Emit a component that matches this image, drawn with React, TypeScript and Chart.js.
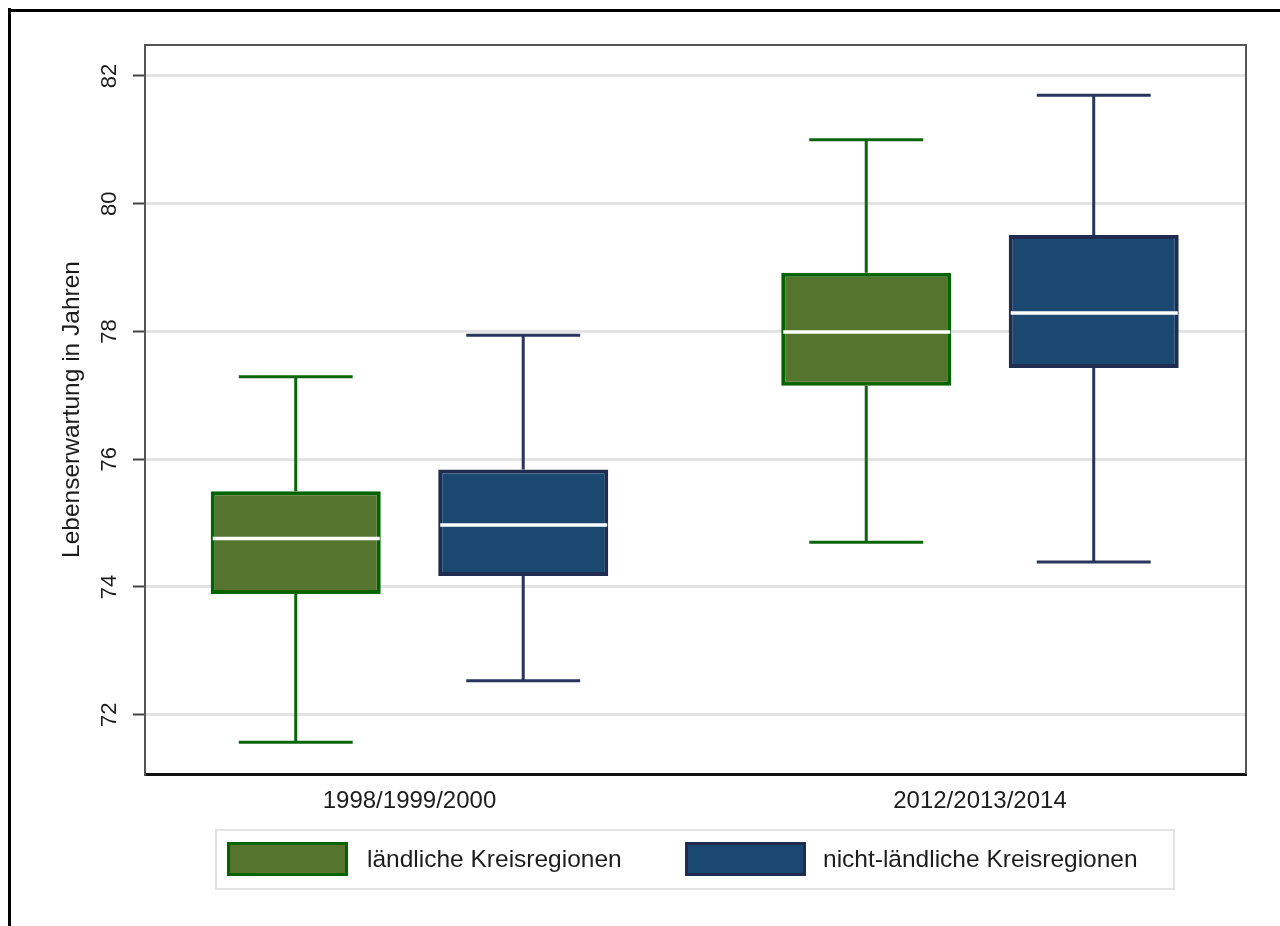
import { useEffect, useRef } from 'react';
import { Chart, registerables } from 'chart.js';

Chart.register(...registerables);

// ---- data ----
const categories = ['1998/1999/2000', '2012/2013/2014'];
const seriesNames = ['ländliche Kreisregionen', 'nicht-ländliche Kreisregionen'];

const landMin = [71.57, 74.7];
const landQ1 = [73.89, 77.15];
const landMed = [74.76, 77.99];
const landQ3 = [75.5, 78.92];
const landMax = [77.29, 81.0];

const nonMin = [72.53, 74.39];
const nonQ1 = [74.17, 77.43];
const nonMed = [74.97, 78.29];
const nonQ3 = [75.84, 79.51];
const nonMax = [77.94, 81.7];

const yTicks = [72, 74, 76, 78, 80, 82];

const FONT = "'Liberation Sans', Arial, sans-serif";
const TEXT = '#1c1c1c';

const styles = [
  { fill: '#55752f', border: '#006400', whisker: '#0b650b' },
  { fill: '#1b4870', border: '#1f2b4f', whisker: '#27355c' },
];

export default function App() {
  const ref = useRef<HTMLCanvasElement>(null);

  useEffect(() => {
    const canvas = ref.current;
    if (!canvas) return;

    const stats = [
      { min: landMin, q1: landQ1, med: landMed, q3: landQ3, max: landMax },
      { min: nonMin, q1: nonQ1, med: nonMed, q3: nonQ3, max: nonMax },
    ];

    const boxPlugin = {
      id: 'boxWhiskers',
      afterDatasetsDraw(chart: any) {
        const c = chart.ctx;
        const ys = chart.scales.y;
        chart.data.datasets.forEach((_ds: any, di: number) => {
          const meta = chart.getDatasetMeta(di);
          const s = stats[di];
          meta.data.forEach((bar: any, i: number) => {
            const { x, width } = bar.getProps(['x', 'width'], true);
            const pMin = ys.getPixelForValue(s.min[i]);
            const pQ1 = ys.getPixelForValue(s.q1[i]);
            const pMed = ys.getPixelForValue(s.med[i]);
            const pQ3 = ys.getPixelForValue(s.q3[i]);
            const pMax = ys.getPixelForValue(s.max[i]);
            const cap = width * 0.335;
            c.save();
            c.strokeStyle = styles[di].whisker;
            c.lineWidth = 3;
            c.beginPath();
            c.moveTo(x, pQ3);
            c.lineTo(x, pMax);
            c.moveTo(x - cap, pMax);
            c.lineTo(x + cap, pMax);
            c.moveTo(x, pQ1);
            c.lineTo(x, pMin);
            c.moveTo(x - cap, pMin);
            c.lineTo(x + cap, pMin);
            c.stroke();
            c.strokeStyle = '#ffffff';
            c.lineWidth = 3.5;
            c.beginPath();
            c.moveTo(x - width / 2 + 2, pMed);
            c.lineTo(x + width / 2 - 1, pMed);
            c.stroke();
            c.restore();
          });
        });
      },
      afterDraw(chart: any) {
        const c = chart.ctx;
        const area = chart.chartArea;
        const ys = chart.scales.y;
        c.save();
        // outer frame (top + left)
        c.fillStyle = '#000000';
        c.fillRect(0, 1, chart.width, 3);
        c.fillRect(0, 0, 3, chart.height);
        // plot frame top + right
        c.strokeStyle = '#555555';
        c.lineWidth = 2;
        c.beginPath();
        c.moveTo(area.left, area.top);
        c.lineTo(area.right, area.top);
        c.lineTo(area.right, area.bottom);
        c.stroke();
        // rotated y tick labels
        c.fillStyle = TEXT;
        c.font = `22px ${FONT}`;
        c.textAlign = 'center';
        c.textBaseline = 'middle';
        ys.ticks.forEach((t: any) => {
          const py = ys.getPixelForValue(t.value);
          c.save();
          c.translate(102, py);
          c.rotate(-Math.PI / 2);
          c.fillText(String(t.value), 0, 0);
          c.restore();
        });
        // legend
        c.strokeStyle = '#e2e2e2';
        c.lineWidth = 2;
        c.strokeRect(208, 822, 958, 59);
        const items = [
          { bx: 219, tx: 359 },
          { bx: 677, tx: 815 },
        ];
        chart.data.datasets.forEach((ds: any, di: number) => {
          const it = items[di];
          c.fillStyle = styles[di].border;
          c.fillRect(it.bx, 834, 121, 34);
          c.fillStyle = styles[di].fill;
          c.fillRect(it.bx + 3, 837, 115, 28);
          c.fillStyle = TEXT;
          c.font = `24.5px ${FONT}`;
          c.textAlign = 'left';
          c.textBaseline = 'middle';
          c.fillText(ds.label, it.tx, 852);
        });
        c.restore();
      },
    };

    const mk = (q1: number[], q3: number[]) => q1.map((v, i) => ({ x: i, y: [v, q3[i]] }));

    const chart = new Chart(canvas, {
      type: 'bar',
      data: {
        datasets: [
          {
            label: seriesNames[0],
            data: mk(landQ1, landQ3) as any,
            backgroundColor: styles[0].fill,
            borderColor: styles[0].border,
            borderWidth: 4,
            borderSkipped: false,
          },
          {
            label: seriesNames[1],
            data: mk(nonQ1, nonQ3) as any,
            backgroundColor: styles[1].fill,
            borderColor: styles[1].border,
            borderWidth: 4,
            borderSkipped: false,
          },
        ],
      },
      options: {
        responsive: false,
        animation: false,
        categoryPercentage: 0.7975,
        barPercentage: 0.7473,
        layout: { padding: { left: 0, top: 37, right: 34, bottom: 0 } },
        plugins: {
          legend: { display: false },
          tooltip: { enabled: false },
        },
        scales: {
          x: {
            type: 'linear',
            offset: false,
            min: -0.4636,
            max: 1.4663,
            grid: { display: false, drawTicks: false, offset: false },
            border: { display: true, color: '#111111', width: 3 },
            ticks: {
              padding: 13,
              color: TEXT,
              font: { family: FONT, size: 24 },
              callback: (v: any) => categories[v as number] ?? '',
              maxRotation: 0,
              minRotation: 0,
            },
            afterBuildTicks: (scale: any) => {
              scale.ticks = categories.map((_c, i) => ({ value: i }));
            },
            afterFit: (scale: any) => {
              scale.height = 152;
            },
          },
          y: {
            type: 'linear',
            min: 71.072,
            max: 82.485,
            grid: {
              color: '#e3e3e3',
              lineWidth: 3,
              tickColor: '#444444',
              tickLength: 12,
              tickWidth: 2,
            },
            border: { display: true, color: '#555555', width: 2 },
            ticks: { display: false },
            title: {
              display: true,
              text: 'Lebenserwartung in Jahren',
              color: TEXT,
              font: { family: FONT, size: 24.5 },
              padding: { top: 50, bottom: 0 },
            },
            afterBuildTicks: (scale: any) => {
              scale.ticks = yTicks.map((v) => ({ value: v }));
            },
            afterFit: (scale: any) => {
              scale.width = 137;
            },
          },
        },
      },
      plugins: [boxPlugin],
    });

    return () => chart.destroy();
  }, []);

  return (
    <div style={{ position: 'absolute', left: 8, top: 8, width: 1272, height: 918 }}>
      <canvas ref={ref} width={1272} height={918} style={{ display: 'block' }} />
    </div>
  );
}
